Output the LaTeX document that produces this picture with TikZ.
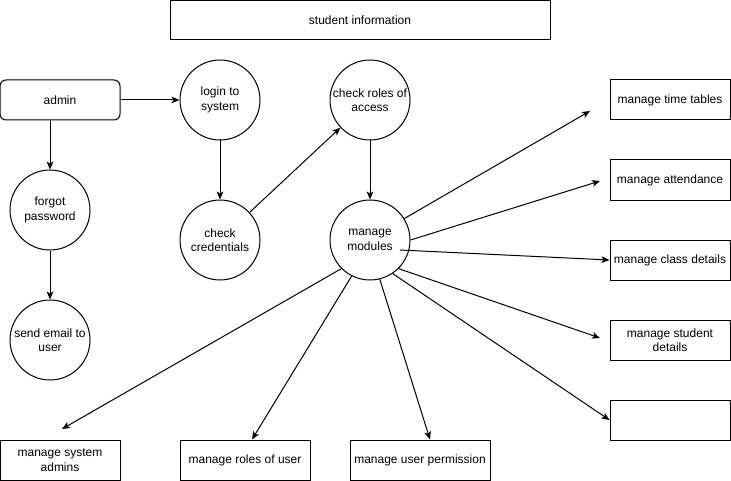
\documentclass[tikz,border=0pt]{standalone}
\usepackage{fontspec}
\setmainfont{Liberation Sans}
\usetikzlibrary{arrows.meta, positioning, shapes}

\begin{document}
\begin{tikzpicture}[x=0.75pt, y=-0.75pt, line width=0.75pt,
	every node/.style={font=\fontsize{9}{10.8}\selectfont, align=center},
	proc/.style={draw, circle, minimum size=60pt, inner sep=0pt},
	ent/.style={draw, rectangle, minimum width=90pt, minimum height=30pt, inner sep=0pt},
	flow/.style={-{Stealth[length=6pt, width=5pt, inset=1.5pt]}}]

\useasboundingbox (0,0) rectangle (731,481);

\node[ent, minimum width=285pt, minimum height=29.25pt] (title) at (360,20) {student information};

% left column
\node[ent, rounded corners=4.5pt] (admin)  at (60,100)  {admin};
\node[proc]                       (forgot) at (50,210)  {forgot\\password};
\node[proc]                       (email)  at (50,340)  {send email to\\user};

% login chain
\node[proc] (login)   at (220,100) {login to\\system};
\node[proc] (cred)    at (220,240) {check\\credentials};
\node[proc] (roles)   at (370,100) {check roles of\\access};
\node[proc] (modules) at (370,240) {manage\\modules};

% modules on the right
\node[ent] (tt)    at (670,100) {manage time tables};
\node[ent] (att)   at (670,180) {manage attendance};
\node[ent] (cd)    at (670,260) {manage class details};
\node[ent] (sd)    at (670,340) {manage student\\details};
\node[ent] (blank) at (670,420) {};

% modules at the bottom
\node[ent]                       (sa) at (60,460)  {manage system\\admins};
\node[ent, minimum width=97.5pt] (ru) at (245,460) {manage roles of user};
\node[ent, minimum width=105pt]  (up) at (420,460) {manage user permission};

\coordinate (tt end)   at (590,111);
\coordinate (att end)  at (600,181);
\coordinate (sd end)   at (600,338);
\coordinate (sa end)   at (62,429);
\coordinate (mod text) at (400,250);

\draw[flow] (admin) -- (login);
\draw[flow] (forgot |- admin.south) -- (forgot);
\draw[flow] (forgot) -- (email);
\draw[flow] (login) -- (cred);
\draw[flow] (cred) -- (roles);
\draw[flow] (roles) -- (modules);

\draw[flow] (modules.32)   -- (tt end);
\draw[flow] (modules.east) -- (att end);
\draw[flow] (mod text)     -- (cd.west);
\draw[flow] (modules.-45)  -- (sd end);
\draw[flow] (modules.-56)  -- (blank.west);
\draw[flow] (modules.-76)  -- ([xshift=7.5pt]up.north);
\draw[flow] (modules.-117) -- ([xshift=5.25pt]ru.north);
\draw[flow] (modules.-135) -- (sa end);

\end{tikzpicture}
\end{document}
